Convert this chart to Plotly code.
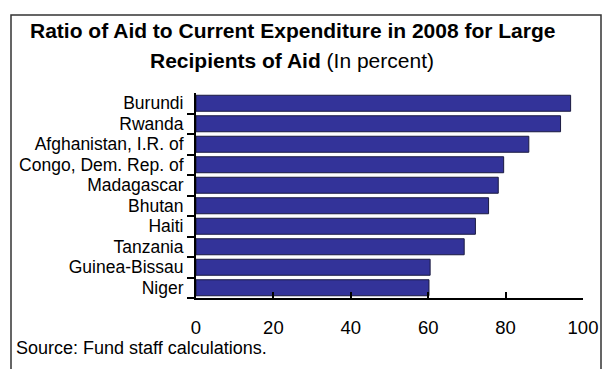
import plotly.graph_objects as go

# --- Data ---
countries = ["Burundi", "Rwanda", "Afghanistan, I.R. of", "Congo, Dem. Rep. of",
             "Madagascar", "Bhutan", "Haiti", "Tanzania", "Guinea-Bissau", "Niger"]
ratio = [96.8, 94.2, 86.0, 79.5, 78.1, 75.6, 72.2, 69.3, 60.5, 60.2]
x_ticks = [0, 20, 40, 60, 80, 100]

W, H = 606, 369
L, R, T, B = 196, 23, 93, 71
pw, ph = W - L - R, H - T - B


def px(x):
    return (x - L) / pw


def py(y):
    return (H - B - y) / ph


FONT = "Liberation Sans, Arial, sans-serif"

fig = go.Figure()
fig.add_trace(go.Bar(
    y=countries,
    x=ratio,
    orientation="h",
    width=0.78,
    marker=dict(color="#333399", line=dict(color="#1a1a40", width=1)),
    showlegend=False,
))

fig.update_layout(
    width=W, height=H,
    margin=dict(l=L, r=R, t=T, b=B, autoexpand=False),
    paper_bgcolor="white",
    plot_bgcolor="white",
    font=dict(family=FONT, color="black"),
)

fig.update_xaxes(
    range=[0, 100],
    tickvals=x_ticks,
    ticks="inside",
    ticklen=6,
    tickwidth=2,
    tickcolor="black",
    showline=True,
    linecolor="black",
    linewidth=2,
    showgrid=False,
    zeroline=False,
    tickfont=dict(size=18.5),
    ticklabelstandoff=12,
    automargin=False,
)
fig.update_yaxes(
    categoryorder="array",
    categoryarray=countries[::-1],
    tickmode="array",
    tickvals=countries,
    ticktext=countries,
    ticks="outside",
    tickson="boundaries",
    ticklen=7,
    tickwidth=2,
    tickcolor="black",
    showline=True,
    linecolor="black",
    linewidth=2,
    showgrid=False,
    tickfont=dict(size=17.5),
    ticklabelstandoff=7,
    automargin=False,
)

# Title
fig.add_annotation(
    x=px(292), y=py(31), xref="paper", yref="paper",
    text="<b>Ratio of Aid to Current Expenditure in 2008 for Large</b>",
    showarrow=False, font=dict(size=21), xanchor="center", yanchor="middle",
)
fig.add_annotation(
    x=px(292), y=py(60), xref="paper", yref="paper",
    text="<b>Recipients of Aid</b> (In percent)",
    showarrow=False, font=dict(size=21), xanchor="center", yanchor="middle",
)

# Source note
fig.add_annotation(
    x=px(14), y=py(348), xref="paper", yref="paper",
    text="Source: Fund staff calculations.",
    showarrow=False, font=dict(size=18), xanchor="left", yanchor="middle",
)

# Frame (open at the bottom)
fig.add_shape(
    type="path", xref="paper", yref="paper",
    path=f"M {px(11)},{py(375)} L {px(11)},{py(15)} L {px(601)},{py(15)} L {px(601)},{py(375)}",
    line=dict(color="#333333", width=1.5),
)

fig.write_html("out.html", config={"displayModeBar": False},
               post_script="document.body.style.margin='0';")
